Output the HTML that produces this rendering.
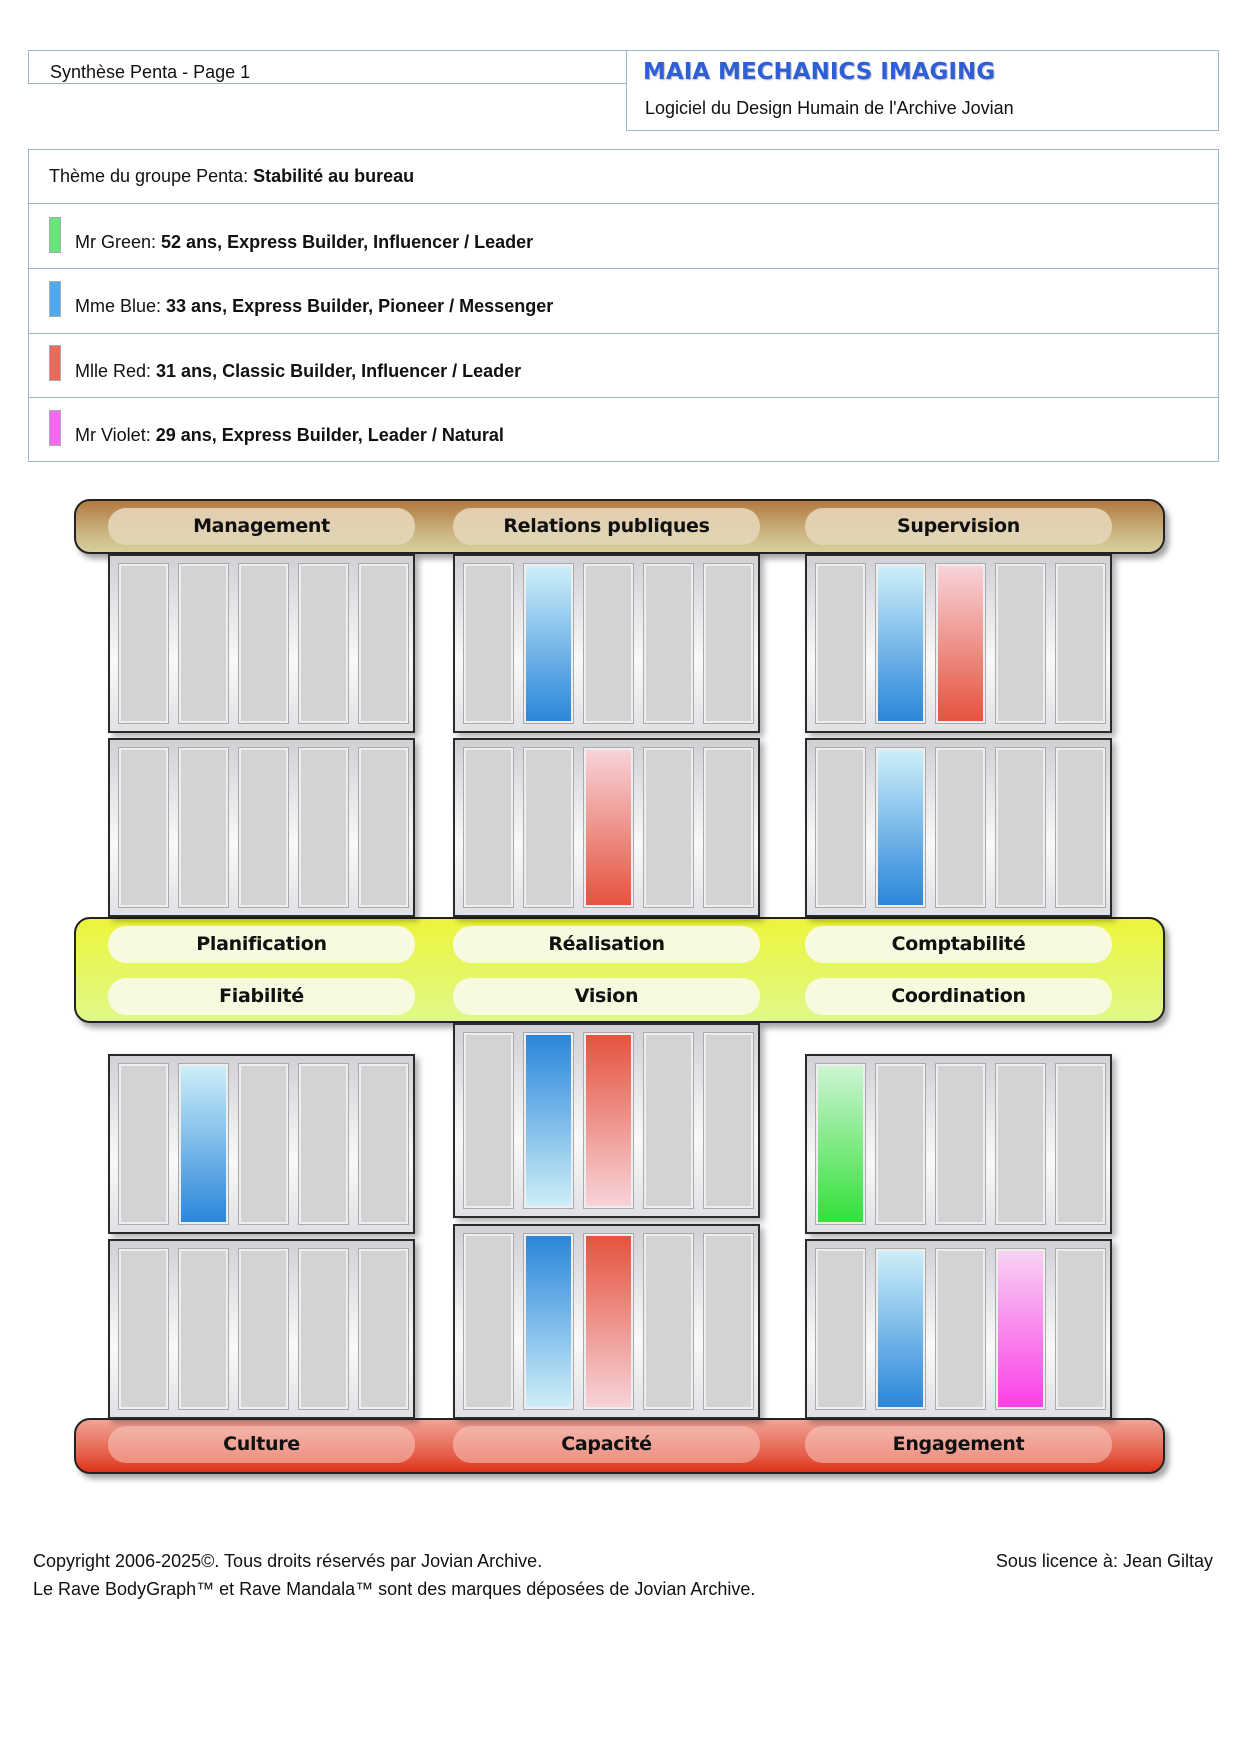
<!DOCTYPE html>
<html><head><meta charset="utf-8">
<style>
*{box-sizing:border-box;margin:0;padding:0}
body{width:1240px;height:1754px;background:#fff;position:relative;font-family:"Liberation Sans",sans-serif;color:#111;overflow:hidden}
.a{position:absolute}
.t{font-size:18px;letter-spacing:0;white-space:nowrap}
.t b{font-weight:bold}
.row{position:absolute;left:28px;width:1191px;border:1.5px solid #9fb4cc}
.mk{position:absolute;left:49px;width:12px;height:36px;border:1px solid #aab}
.bar{position:absolute;left:74px;width:1091px;border:2px solid #222;border-radius:16px;box-shadow:4px 5px 6px rgba(0,0,0,.35)}
.pill{position:absolute;width:307px;height:37px;border-radius:18px;font-family:"DejaVu Sans",sans-serif;font-weight:bold;font-size:19px;letter-spacing:-0.3px;text-align:center;line-height:37px;color:#111}
.box{position:absolute;width:307px;border:2px solid #2a2a2a;background:linear-gradient(#cfd1d5,#f8f9fa 60%,#dfe1e4);box-shadow:4px 4px 6px rgba(0,0,0,.3)}
.s{position:absolute;top:7px;bottom:7px;width:51px;background:#d3d3d3;border:3px solid #eee;outline:1px solid #aaa;outline-offset:-1px}
</style></head><body>
<div class="a" style="left:28px;top:50px;width:598px;height:34px;border:1.5px solid #9fb4cc;border-right:none"></div>
<div class="a t" style="left:50px;top:62px">Synthèse Penta - Page 1</div>
<div class="a" style="left:626px;top:50px;width:593px;height:81px;border:1.5px solid #9fb4cc"></div>
<div class="a" style="left:643px;top:59px;font-family:'DejaVu Sans',sans-serif;font-weight:bold;font-size:23px;color:#2f5fd8;text-shadow:1px 1px 1px #bbb;white-space:nowrap">MAIA MECHANICS IMAGING</div>
<div class="a t" style="left:645px;top:98px">Logiciel du Design Humain de l'Archive Jovian</div>
<div class="row" style="top:149px;height:55px"></div>
<div class="a t" style="left:49px;top:166px">Thème du groupe Penta: <b>Stabilité au bureau</b></div>
<div class="row" style="top:203px;height:66px"></div>
<div class="row" style="top:268px;height:66px"></div>
<div class="row" style="top:333px;height:65px"></div>
<div class="row" style="top:397px;height:65px"></div>
<div class="mk" style="top:217px;background:#66e676"></div>
<div class="mk" style="top:281px;background:#4fa9ee"></div>
<div class="mk" style="top:345px;background:#ec6a58"></div>
<div class="mk" style="top:410px;background:#f469f0"></div>
<div class="a t" style="left:75px;top:232px">Mr Green: <b>52 ans, Express Builder, Influencer / Leader</b></div>
<div class="a t" style="left:75px;top:296px">Mme Blue: <b>33 ans, Express Builder, Pioneer / Messenger</b></div>
<div class="a t" style="left:75px;top:361px">Mlle Red: <b>31 ans, Classic Builder, Influencer / Leader</b></div>
<div class="a t" style="left:75px;top:425px">Mr Violet: <b>29 ans, Express Builder, Leader / Natural</b></div>
<div class="bar" style="top:499px;height:55px;background:linear-gradient(#b27a40,#cdbb8a 70%,#d6d09a)"></div>
<div class="bar" style="top:917px;height:106px;background:linear-gradient(#ecf53a,#e0f88a)"></div>
<div class="bar" style="top:1418px;height:56px;background:linear-gradient(#f2a396,#e55a46 70%,#dc3218)"></div>
<div id="d"></div>
<div class="a t" style="left:33px;top:1551px">Copyright 2006-2025©. Tous droits réservés par Jovian Archive.</div>
<div class="a t" style="left:33px;top:1579px">Le Rave BodyGraph™ et Rave Mandala™ sont des marques déposées de Jovian Archive.</div>
<div class="a t" style="right:27px;top:1551px">Sous licence à: Jean Giltay</div>
<script>
var X=[108,453,805],h='';
function pill(x,y,txt,bg){h+='<div class="pill" style="left:'+x+'px;top:'+y+'px;background:'+bg+'">'+txt+'</div>';}
var br='linear-gradient(#e2cdb0,#e0d6b4)',yl='#f8fadf',rd='linear-gradient(#f5b5aa,#ee8f80)';
['Management','Relations publiques','Supervision'].forEach(function(t,i){pill(X[i],508,t,br)});
['Planification','Réalisation','Comptabilité'].forEach(function(t,i){pill(X[i],926,t,yl)});
['Fiabilité','Vision','Coordination'].forEach(function(t,i){pill(X[i],978,t,yl)});
['Culture','Capacité','Engagement'].forEach(function(t,i){pill(X[i],1426,t,rd)});
var G={b:['#cdeef8','#2a86da'],r:['#f7d3d8','#e5533f'],g:['#cdf4d2','#33e03a'],v:['#f7d2f2','#fb40e6']};
function box(c,y,H,fill,rev){
 h+='<div class="box" style="left:'+X[c]+'px;top:'+y+'px;height:'+H+'px">';
 for(var i=0;i<5;i++){var st='left:'+(8+i*60)+'px';var f=fill[i];
  if(f){var g=G[f];st+=';background:linear-gradient('+(rev?g[1]+','+g[0]:g[0]+','+g[1])+')';}
  h+='<div class="s" style="'+st+'"></div>';}
 h+='</div>';}
box(0,554,179,{});box(1,554,179,{1:'b'});box(2,554,179,{1:'b',2:'r'});
box(0,738,179,{});box(1,738,179,{2:'r'});box(2,738,179,{1:'b'});
box(0,1054,180,{1:'b'});box(1,1023,195,{1:'b',2:'r'},1);box(2,1054,180,{0:'g'});
box(0,1239,180,{});box(1,1224,195,{1:'b',2:'r'},1);box(2,1239,180,{1:'b',3:'v'});
document.getElementById('d').innerHTML=h;
</script>
</body></html>
